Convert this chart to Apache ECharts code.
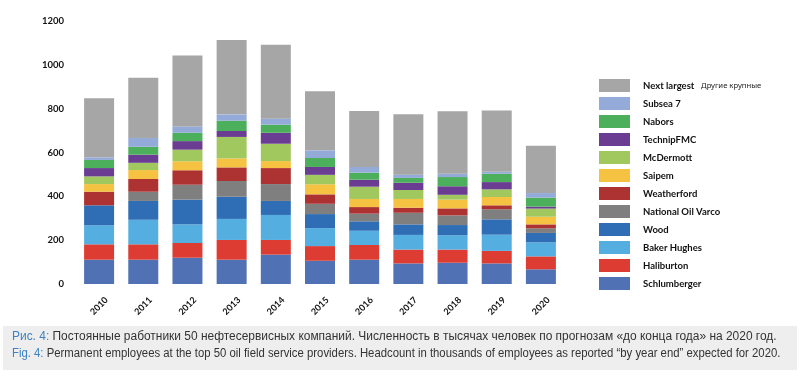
<!DOCTYPE html>
<html>
<head>
<meta charset="utf-8">
<script src="https://cdn.jsdelivr.net/npm/echarts@6/dist/echarts.min.js"></script>
<style>
  html, body { margin: 0; padding: 0; background: #fff; }
  #chart { width: 800px; height: 376px; }
</style>
</head>
<body>
<div id="chart"></div>
<script>
var years = ['2010', '2011', '2012', '2013', '2014', '2015', '2016', '2017', '2018', '2019', '2020'];
var yTicks = [0, 200, 400, 600, 800, 1000, 1200];

// тысячи сотрудников, снизу вверх
var schlumberger = [111, 111, 120, 111, 134, 106, 111, 94, 97, 94, 67];
var haliburton   = [70, 70, 67, 90, 67, 67, 67, 63, 60, 57, 59];
var bakerHughes  = [87, 112, 85, 96, 114, 82, 65, 67, 65, 74, 64];
var wood         = [91, 86, 113, 101, 64, 64, 43, 48, 47, 70, 43];
var nov          = [0, 42, 68, 72, 77, 47, 35, 53, 44, 46, 21];
var weatherford  = [62, 58, 66, 62, 73, 43, 30, 23, 32, 18, 18];
var saipem       = [35, 41, 41, 41, 32, 46, 37, 40, 40, 38, 35];
var mcdermott    = [35, 33, 53, 98, 79, 43, 56, 41, 22, 35, 37];
var technip      = [38, 37, 39, 27, 50, 36, 32, 33, 39, 33, 9];
var nabors       = [37, 36, 38, 47, 37, 41, 32, 22, 42, 38, 41];
var subsea7      = [12, 40, 29, 29, 27, 35, 26, 15, 15, 9, 21];
var nextLargest  = [269, 275, 324, 339, 338, 269, 255, 275, 285, 280, 216];

var seriesList = [
    ['Schlumberger', schlumberger, '#5071b3'],
    ['Haliburton', haliburton, '#dd3c33'],
    ['Baker Hughes', bakerHughes, '#55aee0'],
    ['Wood', wood, '#2f6db5'],
    ['National Oil Varco', nov, '#7f7f7f'],
    ['Weatherford', weatherford, '#ad3232'],
    ['Saipem', saipem, '#f5c242'],
    ['McDermott', mcdermott, '#a1c75f'],
    ['TechnipFMC', technip, '#6a3d93'],
    ['Nabors', nabors, '#4caf5b'],
    ['Subsea 7', subsea7, '#94abd9'],
    ['Next largest', nextLargest, '#a6a6a6']
];

var series = [];
var legendNames = [];
for (let i = 0; i < seriesList.length; i++) {
    series.push({
        name: seriesList[i][0],
        type: 'bar',
        stack: 'total',
        barWidth: 30,
        data: seriesList[i][1],
        itemStyle: { color: seriesList[i][2] }
    });
    legendNames.unshift(seriesList[i][0]);
}

var myChart = echarts.init(document.getElementById('chart'));
var option = {
    animation: false,
    grid: { left: 77, right: 237, top: 21, bottom: 92 },
    xAxis: {
        type: 'category',
        data: years,
        axisLine: { show: false },
        axisTick: { show: false },
        axisLabel: {
            rotate: 45, margin: 22, align: 'center', verticalAlign: 'middle',
            color: '#111', fontFamily: 'Lato', fontWeight: 'bold', fontSize: 9
        }
    },
    yAxis: {
        type: 'value',
        min: yTicks[0],
        max: yTicks[yTicks.length - 1],
        interval: yTicks[1] - yTicks[0],
        splitLine: { show: false },
        axisLine: { show: false },
        axisTick: { show: false },
        axisLabel: {
            margin: 13, color: '#111',
            fontFamily: 'Lato', fontWeight: 'bold', fontSize: 9.5,
            formatter: function (v) { return String(v); }
        }
    },
    legend: {
        data: legendNames,
        orient: 'vertical',
        left: 594,
        top: 74,
        itemWidth: 31,
        itemHeight: 13,
        itemGap: 5,
        icon: 'rect',
        selectedMode: false,
        formatter: function (name) {
            if (name == 'Next largest') return '{b|' + name + '}  {s|Другие крупные}';
            return '{b|' + name + '}';
        },
        textStyle: {
            padding: [0, 0, 0, 8],
            rich: {
                b: { fontFamily: 'Lato', fontWeight: 'bold', fontSize: 9.5, color: '#111' },
                s: { fontFamily: 'Noto Sans', fontSize: 7.7, color: '#222' }
            }
        }
    },
    graphic: [
        {
            type: 'rect',
            left: 3, top: 326,
            shape: { width: 794, height: 44 },
            style: { fill: '#eeeeee' }
        },
        {
            type: 'text',
            x: 12, y: 331,
            scaleX: 0.995,
            style: {
                text: '{a|Рис. 4:} Постоянные работники 50 нефтесервисных компаний. Численность в тысячах человек по прогнозам «до конца года» на 2020 год.',
                verticalAlign: 'top',
                fontFamily: 'Liberation Sans', fontSize: 12, fill: '#333',
                rich: { a: { fontFamily: 'Liberation Sans', fontSize: 12, fill: '#3c82c4' } }
            }
        },
        {
            type: 'text',
            x: 12, y: 348,
            scaleX: 0.945,
            style: {
                text: '{a|Fig. 4:} Permanent employees at the top 50 oil field service providers. Headcount in thousands of employees as reported “by year end” expected for 2020.',
                verticalAlign: 'top',
                fontFamily: 'Liberation Sans', fontSize: 12, fill: '#333',
                rich: { a: { fontFamily: 'Liberation Sans', fontSize: 12, fill: '#3c82c4' } }
            }
        }
    ],
    series: series
};
myChart.setOption(option);
</script>
</body>
</html>
